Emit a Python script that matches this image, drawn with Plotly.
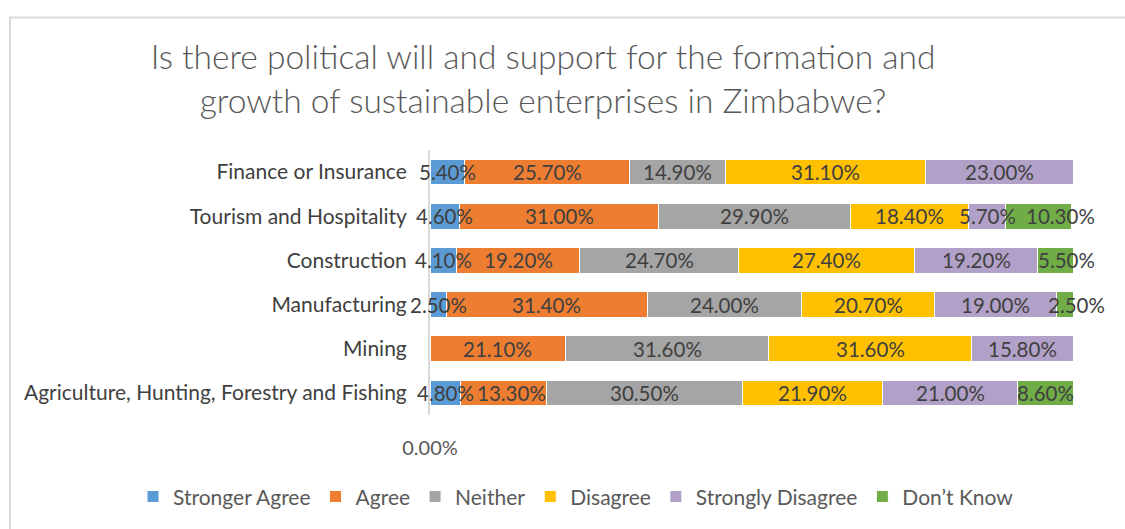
import plotly.graph_objects as go

# Sectors, listed bottom to top as they appear on the chart
sectors = [
    "Agriculture, Hunting, Forestry and Fishing",
    "Mining",
    "Manufacturing",
    "Construction",
    "Tourism and Hospitality",
    "Finance or Insurance",
]

# Response shares (%) per sector, same order as `sectors`; None = no response
stronger_agree = [4.8, None, 2.5, 4.1, 4.6, 5.4]
agree = [13.3, 21.1, 31.4, 19.2, 31.0, 25.7]
neither = [30.5, 31.6, 24.0, 24.7, 29.9, 14.9]
disagree = [21.9, 31.6, 20.7, 27.4, 18.4, 31.1]
strongly_disagree = [21.0, 15.8, 19.0, 19.2, 5.7, 23.0]
dont_know = [8.6, None, 2.5, 5.5, 10.3, None]

series = [
    ("Stronger Agree", stronger_agree, "#5B9BD5"),
    ("Agree", agree, "#ED7D31"),
    ("Neither", neither, "#A5A5A5"),
    ("Disagree", disagree, "#FFC000"),
    ("Strongly Disagree", strongly_disagree, "#B1A0C7"),
    ("Don\u2019t Know", dont_know, "#70AD47"),
]

x_tick_values = [0]
x_tick_labels = ["0.00%"]

FONT = "Lato"
TEXT_DARK = "#404040"
TEXT_MID = "#595959"
GRID_GREY = "#D9D9D9"

# Small rightward nudges (px) for crowded labels so they don't collide
label_nudge = {
    ("Agree", "Agriculture, Hunting, Forestry and Fishing"): 8,
    ("Don\u2019t Know", "Tourism and Hospitality"): 22,
    ("Don\u2019t Know", "Construction"): 11,
    ("Don\u2019t Know", "Manufacturing"): 12,
}

fig = go.Figure()

# Stacked bars
for name, values, color in series:
    fig.add_trace(
        go.Bar(
            y=sectors,
            x=values,
            name=name,
            orientation="h",
            marker=dict(color=color, line=dict(color="white", width=1)),
            hoverinfo="skip",
        )
    )

# Value labels, centred on each segment and drawn above every bar
running = [0.0] * len(sectors)
for name, values, color in series:
    for i, v in enumerate(values):
        if v is None:
            continue
        fig.add_annotation(
            x=running[i] + v / 2,
            y=sectors[i],
            xref="x",
            yref="y",
            text=f"{v:.2f}%",
            showarrow=False,
            xanchor="center",
            yanchor="middle",
            xshift=label_nudge.get((name, sectors[i]), 0),
            font=dict(family=FONT, size=20.5, color=TEXT_DARK),
        )
        running[i] += v

fig.update_layout(
    width=1125,
    height=529,
    barmode="stack",
    bargap=0.42,
    paper_bgcolor="white",
    plot_bgcolor="white",
    margin=dict(l=430, r=52, t=150, b=107),
    font=dict(family=FONT, color=TEXT_MID),
    title=dict(
        text="Is there political will and support for the formation and<br>"
        "growth of sustainable enterprises in Zimbabwe?",
        x=543 / 1125,
        xanchor="center",
        xref="container",
        yref="container",
        y=1 - 69 / 529,
        yanchor="middle",
        font=dict(family=FONT, size=33.5, color=TEXT_MID, weight=300),
    ),
    legend=dict(
        orientation="h",
        x=(133 - 430) / 643,
        xanchor="left",
        y=-(506 - 422) / 272,
        yanchor="middle",
        font=dict(family=FONT, size=21, color=TEXT_MID),
        traceorder="normal",
    ),
    showlegend=True,
    shapes=[
        dict(
            type="rect",
            xref="paper",
            yref="paper",
            x0=(10 - 430) / 643,
            x1=2.0,
            y0=-1.0,
            y1=(422 - 14) / 272,
            line=dict(color=GRID_GREY, width=2),
            fillcolor="rgba(0,0,0,0)",
            layer="below",
        )
    ],
)

fig.update_xaxes(
    range=[0, 100.1],
    tickvals=x_tick_values,
    ticktext=x_tick_labels,
    showgrid=False,
    zeroline=False,
    showline=False,
    ticks="",
    ticklabelstandoff=19,
    tickfont=dict(family=FONT, size=20, color=TEXT_MID),
    fixedrange=True,
)
fig.update_yaxes(
    showgrid=False,
    zeroline=False,
    showline=True,
    linecolor=GRID_GREY,
    linewidth=2,
    ticks="",
    ticklabelstandoff=17,
    tickfont=dict(family=FONT, size=21, color=TEXT_DARK),
    fixedrange=True,
)

fig.write_html("out.html")
